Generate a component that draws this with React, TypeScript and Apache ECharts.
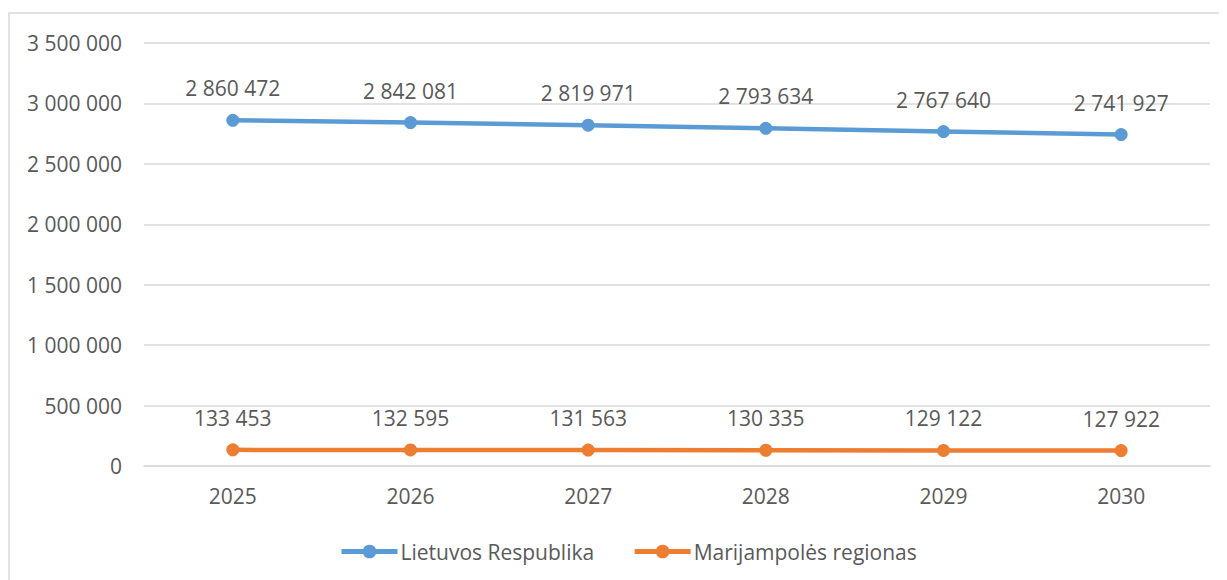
import React, { useEffect, useRef } from "react";
import * as echarts from "echarts";

const categories = ["2025", "2026", "2027", "2028", "2029", "2030"];
const lietuvos = [2860472, 2842081, 2819971, 2793634, 2767640, 2741927];
const marijampole = [133453, 132595, 131563, 130335, 129122, 127922];
const seriesNames = ["Lietuvos Respublika", "Marijampolės regionas"];

const fmt = (v: number) => String(Math.round(v)).replace(/\B(?=(\d{3})+(?!\d))/g, " ");

const FONT = "'Open Sans', 'Noto Sans', sans-serif";
const TXT = "#595959";
const FS = 21;

export default function App() {
  const ref = useRef<HTMLDivElement>(null);
  useEffect(() => {
    if (!ref.current) return;
    const chart = echarts.init(ref.current, undefined, { renderer: "svg" });
    const mkSeries = (name: string, data: number[], color: string) => ({
      name,
      type: "line",
      data,
      symbol: "circle",
      symbolSize: 13,
      lineStyle: { width: 4.5, color },
      itemStyle: { color },
      label: {
        show: true,
        position: "top",
        distance: 15,
        color: TXT,
        fontFamily: FONT,
        fontSize: FS,
        formatter: (p: any) => fmt(p.value),
      },
    });
    chart.setOption({
      animation: false,
      textStyle: { fontFamily: FONT },
      graphic: [
        {
          type: "rect",
          shape: { x: 1, y: 5, width: 1400, height: 700 },
          style: { fill: "none", stroke: "#D9D9D9", lineWidth: 1.5 },
          silent: true,
        },
      ],
      grid: { left: 136, right: 17, top: 35, bottom: 114, containLabel: false },
      legend: {
        left: 326,
        top: 528,
        itemWidth: 56,
        itemHeight: 17,
        itemGap: 38,
        lineStyle: { width: 5 },
        textStyle: { color: TXT, fontSize: FS, fontFamily: FONT, padding: [0, 0, 0, -2] },
        data: seriesNames,
      },
      xAxis: {
        type: "category",
        data: categories,
        boundaryGap: true,
        axisLine: { show: true, lineStyle: { color: "#D9D9D9", width: 1.5 } },
        axisTick: { show: false },
        axisLabel: { color: TXT, fontSize: FS, fontFamily: FONT, margin: 19 },
      },
      yAxis: {
        type: "value",
        min: 0,
        max: 3500000,
        interval: 500000,
        axisLine: { show: false },
        axisTick: { show: false },
        splitLine: { lineStyle: { color: "#D9D9D9", width: 1.5 } },
        axisLabel: {
          color: TXT,
          fontSize: FS,
          fontFamily: FONT,
          margin: 22,
          formatter: (v: number) => fmt(v),
        },
      },
      series: [
        mkSeries(seriesNames[0], lietuvos, "#5B9BD5"),
        mkSeries(seriesNames[1], marijampole, "#ED7D31"),
      ],
    });
    return () => chart.dispose();
  }, []);
  return <div ref={ref} style={{ width: 1219, height: 572 }} />;
}
